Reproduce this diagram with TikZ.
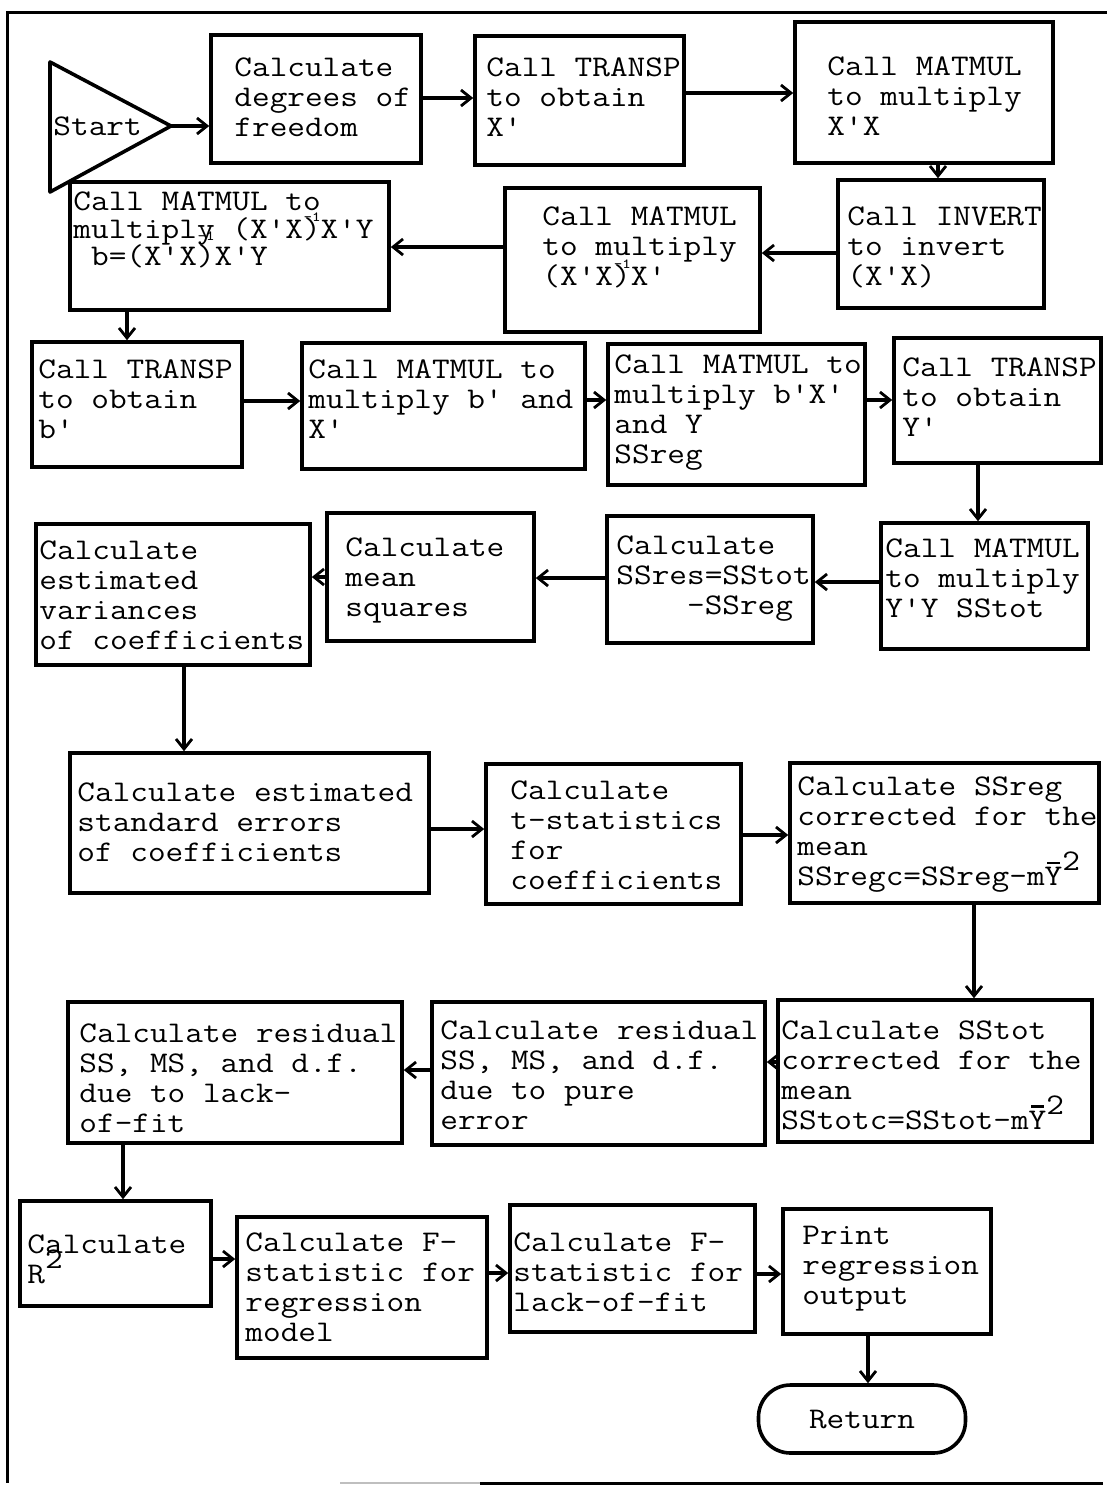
\documentclass[tikz,border=0pt]{standalone}
\usepackage{fontspec}
\usetikzlibrary{arrows.meta}

% slab-serif typewriter text for all boxes, fixed line pitch
\newcommand\tyfont{\ttfamily\addfontfeatures{RawFeature={embolden=1.6}}}
\newcommand\boxfont{\tyfont\fontsize{15pt}{15pt}\selectfont\lineskiplimit=-100pt\relax}
\newcommand\tightfont{\tyfont\fontsize{15pt}{13.75pt}\selectfont\lineskiplimit=-100pt\relax}
% small raised exponent that takes no width
\newcommand\expo[2][0.55em]{\smash{\llap{\raisebox{#1}{\fontsize{7pt}{7pt}\selectfont #2}}}}
% full-size raised exponent
\newcommand\sqr{\smash{\raisebox{0.5em}{2}}}
% Y with a bar over it
\newcommand\ybar{\smash{\rlap{\makebox[0.525em][c]{\raisebox{0.72em}{\rule{0.38em}{0.09em}}}}}Y}

\tikzset{
  box/.style={draw, line width=1.8pt, inner sep=0pt},
  txt/.style={anchor=west, align=left, inner sep=0pt, font=\boxfont, xscale=1.1429},
  arr/.style={line width=1.7pt, -{Straight Barb[length=5pt,width=8pt,line width=1.4pt]}},
}

% \stepbox{name}{x1}{y1}{x2}{y2}{text x}{text y}{text}
\newcommand\stepbox[8]{%
  \node[box, minimum width={(#4-#2)*0.5pt}, minimum height={(#5-#3)*0.5pt}]
    (#1) at ({(#2+#4)/2},{(#3+#5)/2}) {};
  \node[txt] (#1t) at (#6,#7) {#8};
}

\begin{document}
\begin{tikzpicture}[x=0.5pt, y=-0.5pt]
\useasboundingbox (0,0) rectangle (1107,1485);
\fill[white] (0,0) rectangle (1107,1485);

% frame
\draw[line width=1.5pt] (1107,12) -- (7,12) -- (7,1483);
\draw[line width=1.1pt, gray!50] (340,1483) -- (480,1483);
\draw[line width=1.5pt] (480,1483) -- (1103,1483);

% start
\draw[box, line join=round] (50,62) -- (171,126) -- (50,192) -- cycle;
\coordinate (tip) at (171,126);
\node[txt] (start) at (53,126) {Start};

% process boxes
\stepbox{b1}{211}{35}{421}{163}{234}{97}{Calculate\\degrees of\\freedom}
\stepbox{b2}{475}{36}{684}{165}{486}{97}{Call TRANSP\\to obtain\\X'}
\stepbox{b3}{795}{22}{1053}{163}{827}{96}{Call MATMUL\\to multiply\\X'X}
\stepbox{b4}{838}{180}{1044}{308}{847}{247}{Call INVERT\\to invert\\(X'X)}
\stepbox{b5}{505}{188}{760}{332}{542}{247}{Call MATMUL\\to multiply\\(X'X)\expo{-1}X'}
\node[box, minimum width={319*0.5pt}, minimum height={128*0.5pt}] (b6) at ({(70+389)/2},{(182+310)/2}) {};
\node[txt, font=\tightfont] (b6t) at (73,230) {Call MATMUL to\\multiply (X'X)\expo{-1}X'Y\\\hphantom{0}b=(X'X)\expo[0.85em]{-1}X'Y};
\stepbox{b7}{32}{342}{242}{467}{38}{399}{Call TRANSP\\to obtain\\b'}
\stepbox{b8}{302}{343}{585}{469}{308}{399}{Call MATMUL to\\multiply b' and\\X'}
\stepbox{b9}{608}{344}{865}{485}{614}{413}{Call MATMUL to\\multiply b'X'\\and Y\\SSreg}
\stepbox{b10}{894}{338}{1101}{463}{902}{397}{Call TRANSP\\to obtain\\Y'}
\stepbox{b11}{881}{523}{1088}{649}{885}{578}{Call MATMUL\\to multiply\\Y'Y SStot}
\stepbox{b12}{607}{516}{813}{643}{616}{579}{Calculate\\SSres=SStot\\\hphantom{0000}-SSreg}
\stepbox{b13}{327}{513}{534}{641}{345}{580}{Calculate\\mean\\squares}
\stepbox{b14}{36}{524}{310}{665}{39}{595}{Calculate\\estimated\\variances\\of coefficients}
\stepbox{b15}{70}{753}{429}{893}{77}{822}{Calculate estimated\\standard errors\\of coefficients}
\stepbox{b16}{486}{764}{741}{904}{510}{835}{Calculate\\t-statistics\\for\\coefficients}
\stepbox{b17}{790}{763}{1099}{903}{797}{835}{Calculate SSreg\\corrected for the\\mean\\SSregc=SSreg-m\ybar\sqr}
\stepbox{b18}{778}{1000}{1092}{1142}{781}{1075}{Calculate SStot\\corrected for the\\mean\\SStotc=SStot-m\ybar\sqr}
\stepbox{b19}{432}{1002}{765}{1145}{440}{1075}{Calculate residual\\SS, MS, and d.f.\\due to pure\\error}
\stepbox{b20}{68}{1002}{402}{1143}{79}{1078}{Calculate residual\\SS, MS, and d.f.\\due to lack-\\of-fit}
\stepbox{b21}{20}{1201}{211}{1306}{27}{1259}{Calculate\\R\sqr}
\stepbox{b22}{237}{1217}{487}{1358}{245}{1287}{Calculate F-\\statistic for\\regression\\model}
\stepbox{b23}{510}{1205}{755}{1332}{513}{1272}{Calculate F-\\statistic for\\lack-of-fit}
\stepbox{b24}{783}{1209}{991}{1334}{802}{1269}{Print\\regression\\output}

% terminator
\node[box, rounded corners=16pt, minimum width={207*0.5pt}, minimum height={68*0.5pt}]
  (ret) at (862,1419) {};
\node[txt, anchor=center] (rett) at (862,1419) {Return};

% flow
\draw[arr] (tip) -- (b1.west |- tip);
\draw[arr] (b1.east |- 0,98) -- (b2.west |- 0,98);
\draw[arr] (b2.east |- 0,93) -- (b3.west |- 0,93);
\draw[arr] (b3.south -| 938,0) -- (b4.north -| 938,0);
\draw[arr] (b4.west |- 0,253) -- (b5.east |- 0,253);
\draw[arr] (b5.west |- 0,247) -- (b6.east |- 0,247);
\draw[arr] (b6.south -| 127,0) -- (b7.north -| 127,0);
\draw[arr] (b7.east |- 0,401) -- (b8.west |- 0,401);
\draw[arr] (b8.east |- 0,400) -- (b9.west |- 0,400);
\draw[arr] (b9.east |- 0,400) -- (b10.west |- 0,400);
\draw[arr] (b10.south -| 978,0) -- (b11.north -| 978,0);
\draw[arr] (b11.west |- 0,582) -- (b12.east |- 0,582);
\draw[arr] (b12.west |- 0,578) -- (b13.east |- 0,578);
\draw[arr] (b13.west |- 0,577) -- (b14.east |- 0,577);
\draw[arr] (b14.south -| 184,0) -- (b15.north -| 184,0);
\draw[arr] (b15.east |- 0,829) -- (b16.west |- 0,829);
\draw[arr] (b16.east |- 0,835) -- (b17.west |- 0,835);
\draw[arr] (b17.south -| 974,0) -- (b18.north -| 974,0);
\draw[arr] (b18.west |- 0,1062) -- (b19.east |- 0,1062);
\draw[arr] (b19.west |- 0,1070) -- (b20.east |- 0,1070);
\draw[arr] (b20.south -| 123,0) -- (b21.north -| 123,0);
\draw[arr] (b21.east |- 0,1259) -- (b22.west |- 0,1259);
\draw[arr] (b22.east |- 0,1273) -- (b23.west |- 0,1273);
\draw[arr] (b23.east |- 0,1274) -- (b24.west |- 0,1274);
\draw[arr] (b24.south -| 868,0) -- (ret.north -| 868,0);
\end{tikzpicture}
\end{document}
